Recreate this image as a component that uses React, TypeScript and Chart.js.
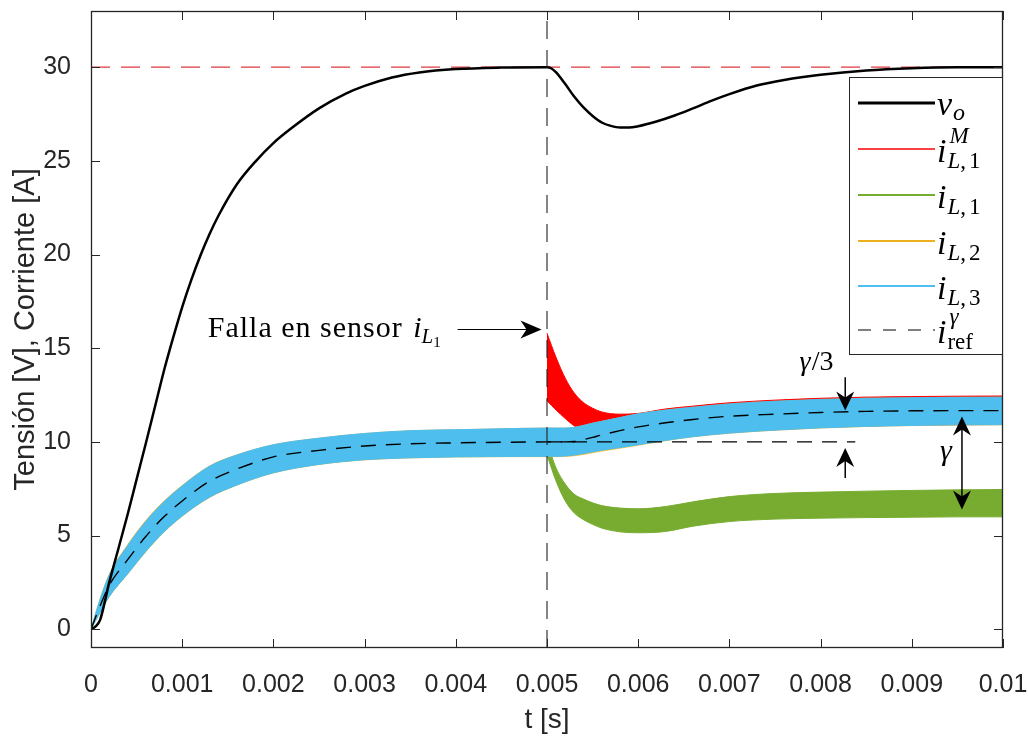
import React, { useEffect, useRef } from 'react';
import { Chart, registerables } from 'chart.js';

Chart.register(...registerables);

// ---------- data ----------
const tV = [0, 0.00005, 0.0001, 0.0002, 0.0003, 0.0004, 0.0005, 0.0006, 0.0007, 0.0008, 0.0009, 0.001, 0.0011, 0.0012, 0.0013, 0.0014, 0.0016, 0.0018, 0.002, 0.0022, 0.0025, 0.0028, 0.003, 0.0033, 0.0036, 0.004, 0.0045, 0.005, 0.00505, 0.0051, 0.0052, 0.0053, 0.0054, 0.0055, 0.0056, 0.0057, 0.0058, 0.0059, 0.006, 0.0062, 0.0064, 0.0066, 0.0068, 0.007, 0.0073, 0.0076, 0.008, 0.0085, 0.009, 0.0095, 0.01];
const vO = [0, 0.15, 0.5, 2.5, 4.3, 6.1, 8.0, 9.9, 11.85, 13.8, 15.55, 17.2, 18.65, 19.95, 21.1, 22.1, 23.75, 24.95, 25.95, 26.75, 27.8, 28.6, 29.0, 29.45, 29.72, 29.9, 29.98, 30.0, 29.93, 29.72, 29.1, 28.42, 27.85, 27.4, 27.05, 26.87, 26.78, 26.78, 26.85, 27.1, 27.42, 27.8, 28.2, 28.56, 29.02, 29.32, 29.6, 29.83, 29.95, 30.0, 30.0];

const tCur = [0, 0.0001, 0.0002, 0.0004, 0.0006, 0.0008, 0.001, 0.0013, 0.0016, 0.002, 0.0025, 0.003, 0.0035, 0.004, 0.0045, 0.005, 0.0051, 0.0052, 0.0053, 0.0054, 0.0055, 0.0056, 0.0058, 0.006, 0.0063, 0.0066, 0.007, 0.0075, 0.008, 0.0085, 0.009, 0.0095, 0.01];
const iRefV = [0, 1.25, 2.35, 3.7, 4.95, 6.0, 6.85, 7.9, 8.55, 9.2, 9.55, 9.78, 9.9, 9.95, 9.98, 10.0, 10.0, 10.0, 10.02, 10.12, 10.24, 10.37, 10.6, 10.8, 11.02, 11.2, 11.37, 11.48, 11.57, 11.63, 11.66, 11.67, 11.67];
const iL3Upper = [0, 1.6, 2.9, 4.45, 5.75, 6.8, 7.65, 8.7, 9.3, 9.85, 10.2, 10.45, 10.6, 10.65, 10.7, 10.74, 10.74, 10.74, 10.78, 10.88, 11.0, 11.1, 11.3, 11.5, 11.7, 11.85, 12.03, 12.17, 12.27, 12.33, 12.36, 12.38, 12.39];
const iL3Lower = [0, 0.9, 1.75, 2.95, 4.15, 5.2, 6.05, 7.05, 7.7, 8.35, 8.8, 9.05, 9.15, 9.2, 9.22, 9.23, 9.23, 9.25, 9.3, 9.38, 9.47, 9.56, 9.7, 9.85, 10.08, 10.28, 10.47, 10.63, 10.75, 10.83, 10.88, 10.91, 10.92];
const iL2Upper = [0, 1.63, 2.94, 4.5, 5.8, 6.84, 7.68, 8.72, 9.31, 9.85, 10.2, 10.45, 10.6, 10.65, 10.7, 10.74, 10.74, 10.74, 10.78, 10.88, 11.0, 11.1, 11.3, 11.5, 11.7, 11.85, 12.03, 12.17, 12.27, 12.33, 12.36, 12.38, 12.39];
const iL2Lower = [0, 0.88, 1.73, 2.93, 4.13, 5.18, 6.03, 7.03, 7.69, 8.34, 8.79, 9.04, 9.14, 9.19, 9.21, 9.21, 9.21, 9.22, 9.26, 9.33, 9.42, 9.51, 9.66, 9.82, 10.06, 10.27, 10.46, 10.62, 10.74, 10.82, 10.87, 10.9, 10.91];

const tPost = [0.005, 0.0051, 0.0052, 0.0053, 0.0054, 0.0055, 0.0056, 0.0058, 0.006, 0.0063, 0.0066, 0.007, 0.0075, 0.008, 0.0085, 0.009, 0.0095, 0.01];
const iM1Upper = [15.8, 14.5, 13.4, 12.6, 12.1, 11.8, 11.6, 11.48, 11.52, 11.76, 11.91, 12.09, 12.23, 12.33, 12.39, 12.42, 12.44, 12.45];
const iM1Lower = [12.2, 11.7, 11.25, 10.85, 10.6, 10.4, 10.3, 10.2, 10.1, 10.15, 10.3, 10.5, 10.65, 10.77, 10.85, 10.9, 10.92, 10.93];
const iL1Upper = [10.0, 8.6, 7.75, 7.2, 6.95, 6.75, 6.6, 6.47, 6.43, 6.55, 6.8, 7.08, 7.25, 7.32, 7.37, 7.41, 7.44, 7.46];
const iL1Lower = [9.3, 7.9, 6.85, 6.2, 5.85, 5.6, 5.4, 5.2, 5.15, 5.22, 5.5, 5.75, 5.88, 5.93, 5.96, 5.98, 6.0, 6.0];

const vRefT = [0, 0.01];
const vRefV = [30, 30];
const nominalT = [0.005, 0.00838];
const nominalV = [10, 10];
const faultLineT = [0.005, 0.005];
const faultLineV = [-1, 33];

const xTicks = [0, 0.001, 0.002, 0.003, 0.004, 0.005, 0.006, 0.007, 0.008, 0.009, 0.01];
const xTickLabels = ['0', '0.001', '0.002', '0.003', '0.004', '0.005', '0.006', '0.007', '0.008', '0.009', '0.01'];
const yTicks = [0, 5, 10, 15, 20, 25, 30];
const yTickLabels = ['0', '5', '10', '15', '20', '25', '30'];

// annotation anchors (data coordinates)
const faultArrow = { t0: 0.00402, t1: 0.00494, v: 16.0 };
const faultLabelPos = { t: 0.00128, v: 15.62 };
const gamma3Arrow = { t: 0.00827, downFrom: 13.45, downTo: 11.67, upFrom: 8.08, upTo: 9.68 };
const gamma3LabelPos = { t: 0.00777, v: 13.85 };
const gammaArrow = { t: 0.00955, top: 11.36, bottom: 6.39 };
const gammaLabelPos = { t: 0.00931, v: 9.06 };

const C_BLUE = '#4DBEEE';
const C_ORANGE = '#EDB120';
const C_GREEN = '#77AC30';
const C_RED = '#FF0000';
const C_VREF = '#DE3B3F';
const AX = '#262626';
const SANS = '"Liberation Sans", Arial, sans-serif';
const SERIF = '"Liberation Serif", "Times New Roman", serif';

const pts = (xs: number[], ys: number[]) => xs.map((x, i) => ({ x, y: ys[i] }));

function txt(ctx: CanvasRenderingContext2D, s: string, x: number, y: number, size: number, italic = false) {
  ctx.font = `${italic ? 'italic ' : ''}${size}px ${SERIF}`;
  ctx.fillText(s, x, y);
  return ctx.measureText(s).width;
}

function head(ctx: CanvasRenderingContext2D, tx: number, ty: number, dx: number, dy: number, len = 19, hw = 9, notch = 6) {
  const px = -dy, py = dx;
  ctx.beginPath();
  ctx.moveTo(tx, ty);
  ctx.lineTo(tx - dx * len + px * hw, ty - dy * len + py * hw);
  ctx.lineTo(tx - dx * (len - notch), ty - dy * (len - notch));
  ctx.lineTo(tx - dx * len - px * hw, ty - dy * len - py * hw);
  ctx.closePath();
  ctx.fill();
}

function seg(ctx: CanvasRenderingContext2D, x0: number, y0: number, x1: number, y1: number) {
  ctx.beginPath();
  ctx.moveTo(x0, y0);
  ctx.lineTo(x1, y1);
  ctx.stroke();
}

const overlay = {
  id: 'overlay',
  afterDraw(chart: any) {
    const { ctx, chartArea: a, scales } = chart;
    const X = (t: number) => scales.x.getPixelForValue(t);
    const Y = (v: number) => scales.y.getPixelForValue(v);
    ctx.save();

    // box + inward ticks
    ctx.strokeStyle = AX;
    ctx.lineWidth = 1;
    ctx.setLineDash([]);
    ctx.beginPath();
    for (const t of xTicks) {
      const px = Math.round(X(t)) + 0.5;
      ctx.moveTo(px, a.bottom); ctx.lineTo(px, a.bottom - 9);
      ctx.moveTo(px, a.top); ctx.lineTo(px, a.top + 9);
    }
    for (const v of yTicks) {
      const py = Math.round(Y(v)) + 0.5;
      ctx.moveTo(a.left, py); ctx.lineTo(a.left + 9, py);
      ctx.moveTo(a.right, py); ctx.lineTo(a.right - 9, py);
    }
    ctx.stroke();
    ctx.lineWidth = 1.3;
    ctx.strokeRect(a.left + 0.5, a.top + 0.5, a.right - a.left - 1, a.bottom - a.top - 1);

    // annotations
    ctx.fillStyle = '#000';
    ctx.strokeStyle = '#000';
    ctx.textBaseline = 'alphabetic';
    ctx.textAlign = 'left';

    // fault arrow + label
    ctx.lineWidth = 1.2;
    const fy = Y(faultArrow.v);
    seg(ctx, X(faultArrow.t0), fy, X(faultArrow.t1) - 12, fy);
    head(ctx, X(faultArrow.t1), fy, 1, 0, 21, 9, 6);
    {
      const x0 = X(faultLabelPos.t), y0 = Y(faultLabelPos.v);
      (ctx as any).letterSpacing = '1px';
      const w = txt(ctx, 'Falla en sensor ', x0, y0, 30);
      (ctx as any).letterSpacing = '0px';
      const w2 = txt(ctx, 'i', x0 + w + 2, y0, 30, true);
      const wL = txt(ctx, 'L', x0 + w + w2 + 2, y0 + 6, 21, true);
      txt(ctx, '1', x0 + w + w2 + wL + 2, y0 + 10, 15);
    }

    // gamma/3 arrows
    ctx.lineWidth = 1.5;
    const gx = X(gamma3Arrow.t);
    seg(ctx, gx, Y(gamma3Arrow.downFrom), gx, Y(gamma3Arrow.downTo) - 10);
    head(ctx, gx, Y(gamma3Arrow.downTo), 0, 1, 19, 9, 6);
    seg(ctx, gx, Y(gamma3Arrow.upFrom), gx, Y(gamma3Arrow.upTo) + 10);
    head(ctx, gx, Y(gamma3Arrow.upTo), 0, -1, 19, 9, 6);
    {
      const x0 = X(gamma3LabelPos.t), y0 = Y(gamma3LabelPos.v);
      const w = txt(ctx, 'γ', x0, y0, 28, true);
      txt(ctx, '/3', x0 + w + 1, y0, 28);
    }

    // gamma double arrow
    const gx2 = X(gammaArrow.t);
    seg(ctx, gx2, Y(gammaArrow.top) + 10, gx2, Y(gammaArrow.bottom) - 10);
    head(ctx, gx2, Y(gammaArrow.top), 0, -1, 19, 9, 6);
    head(ctx, gx2, Y(gammaArrow.bottom), 0, 1, 19, 9, 6);
    txt(ctx, 'γ', X(gammaLabelPos.t), Y(gammaLabelPos.v), 30, true);

    // legend
    const lx = 849, ly = a.top + 66, lw = a.right - 849, lh = 278;
    ctx.fillStyle = '#fff';
    ctx.fillRect(lx, ly, lw, lh);
    ctx.strokeStyle = AX;
    ctx.lineWidth = 1;
    ctx.strokeRect(lx + 0.5, ly + 0.5, lw - 1, lh - 1);
    const rows = [26, 72, 118, 164, 209, 253].map((d) => ly + d);
    const sx0 = lx + 9, sx1 = lx + 86, tx = lx + 88;
    const samples: [string, number, number[]][] = [
      ['#000000', 3, []], ['#FF0000', 1.5, []], ['#77AC30', 1.8, []], ['#EDB120', 1.8, []], ['#4DBEEE', 1.8, []], ['#000000', 1.2, [13, 12]],
    ];
    for (let i = 0; i < samples.length; i++) {
      const [c, w, d] = samples[i];
      ctx.save();
      ctx.strokeStyle = c;
      ctx.lineWidth = w;
      ctx.setLineDash(d);
      ctx.beginPath();
      ctx.moveTo(sx0, rows[i]);
      ctx.lineTo(sx1, rows[i]);
      ctx.stroke();
      ctx.restore();
    }
    ctx.setLineDash([]);
    ctx.fillStyle = '#000';
    {
      const y = rows[0];
      const w = txt(ctx, 'v', tx, y + 12, 34, true);
      txt(ctx, 'o', tx + w + 1, y + 17, 24, true);
    }
    const iSub = (y: number, sub: string, sup?: string, subRoman = false) => {
      const w = txt(ctx, 'i', tx, y + 13, 34, true);
      const xs = tx + w + 1;
      if (sup) txt(ctx, sup, xs + 2, y - 6, 23, true);
      if (subRoman) {
        txt(ctx, sub, xs, y + 19, 23, false);
      } else {
        const [a1, b1] = sub.split(',');
        const wL = txt(ctx, a1, xs, y + 19, 23, true);
        const wc = txt(ctx, ',', xs + wL, y + 19, 23);
        txt(ctx, b1, xs + wL + wc + 3, y + 19, 23);
      }
    };
    iSub(rows[1], 'L,1', 'M');
    iSub(rows[2], 'L,1');
    iSub(rows[3], 'L,2');
    iSub(rows[4], 'L,3');
    iSub(rows[5], 'ref', 'γ', true);

    ctx.restore();
  },
};

function band(t: number[], lower: number[], upper: number[], color: string, bw = 1) {
  return [
    { data: pts(t, lower), borderColor: color, borderWidth: bw, pointRadius: 0, fill: false, cubicInterpolationMode: 'monotone' },
    { data: pts(t, upper), borderColor: color, borderWidth: bw, backgroundColor: color, pointRadius: 0, fill: '-1', cubicInterpolationMode: 'monotone' },
  ];
}

export default function App() {
  const ref = useRef<HTMLCanvasElement>(null);
  useEffect(() => {
    document.body.style.margin = '0';
    const datasets: any[] = [
      { data: pts(faultLineT, faultLineV), borderColor: '#222', borderWidth: 1.1, borderDash: [18, 11], pointRadius: 0, fill: false },
      { data: pts(tCur, iRefV), borderColor: '#000', borderWidth: 1.4, borderDash: [15, 10], pointRadius: 0, fill: false, cubicInterpolationMode: 'monotone' },
      { data: pts(nominalT, nominalV), borderColor: '#000', borderWidth: 1.3, borderDash: [15, 10], pointRadius: 0, fill: false },
      { data: pts(tV, vO), borderColor: '#000', borderWidth: 2.5, pointRadius: 0, fill: false, cubicInterpolationMode: 'monotone' },
      { data: pts(vRefT, vRefV), borderColor: C_VREF, borderWidth: 1.3, borderDash: [19, 11], pointRadius: 0, fill: false },
      ...band(tCur, iL3Lower, iL3Upper, C_BLUE),
      ...band(tCur, iL2Lower, iL2Upper, C_ORANGE, 0.6),
      ...band(tPost, iL1Lower, iL1Upper, C_GREEN),
      ...band(tPost, iM1Lower, iM1Upper, C_RED),
    ];
    const chart = new Chart(ref.current as HTMLCanvasElement, {
      type: 'line',
      data: { datasets },
      options: {
        animation: false,
        responsive: false,
        devicePixelRatio: 1,
        events: [],
        layout: { padding: { left: 0, right: 25, top: 11, bottom: 0 } },
        plugins: { legend: { display: false }, tooltip: { enabled: false } },
        scales: {
          x: {
            type: 'linear',
            min: 0,
            max: 0.01,
            grid: { display: false },
            border: { display: false },
            afterBuildTicks: (s: any) => { s.ticks = xTicks.map((v) => ({ value: v })); },
            afterFit: (s: any) => { s.height = 88; s.paddingLeft = 0; s.paddingRight = 0; },
            ticks: {
              autoSkip: false, maxRotation: 0, minRotation: 0, padding: 14, color: AX,
              font: { family: SANS, size: 25 },
              callback: (_v: any, i: number) => xTickLabels[i],
            },
            title: { display: true, text: 't [s]', color: AX, font: { family: SANS, size: 28, lineHeight: 1 }, padding: { top: 0, bottom: 2 } },
          },
          y: {
            type: 'linear',
            min: -1,
            max: 33,
            grid: { display: false },
            border: { display: false },
            afterBuildTicks: (s: any) => { s.ticks = yTicks.map((v) => ({ value: v })); },
            afterFit: (s: any) => { s.width = 91; s.paddingTop = 0; s.paddingBottom = 0; },
            ticks: {
              autoSkip: false, padding: 12, color: AX,
              font: { family: SANS, size: 25 },
              callback: (_v: any, i: number) => yTickLabels[i],
            },
            title: { display: true, text: 'Tensión [V], Corriente [A]', color: AX, font: { family: SANS, size: 29, lineHeight: 1 }, padding: { top: 11, bottom: 0 } },
          },
        },
      } as any,
      plugins: [overlay],
    });
    return () => chart.destroy();
  }, []);
  return <canvas ref={ref} width={1028} height={736} style={{ display: 'block', width: 1028, height: 736 }} />;
}
